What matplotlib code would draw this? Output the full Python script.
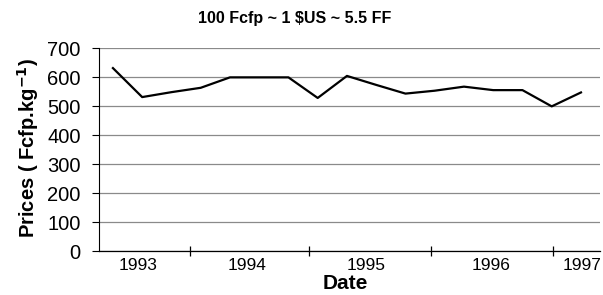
import matplotlib
matplotlib.use("Agg")
import matplotlib.pyplot as plt
import numpy as np

plt.rcParams['font.family'] = ['Liberation Sans', 'DejaVu Sans']

# quarterly prices (Fcfp/kg), May 1993 .. 1997
prices = [631, 531, 548, 563, 599, 599, 599, 528, 604, 573, 543, 553,
          567, 555, 555, 499, 547]
years = ['1993', '1994', '1995', '1996', '1997']
year_centers = [0.85, 4.58, 8.65, 12.92, 16.03]
year_breaks = [2.63, 6.70, 10.87, 15.04]

x = np.arange(len(prices))

fig = plt.figure(figsize=(6.03, 2.95), dpi=100)
ax = fig.add_axes([0.164, 0.149, 0.831, 0.688])

ax.plot(x, prices, color='black', lw=1.6, zorder=3)

ax.set_ylim(0, 700)
ax.set_yticks(range(0, 701, 100))
ax.yaxis.grid(True, color='#8a8a8a', lw=0.9)
ax.set_axisbelow(True)
ax.set_xlim(-0.48, 16.65)

ax.set_xticks(year_breaks)
ax.set_xticklabels([])
ax.set_xticks(year_centers, minor=True)
ax.set_xticklabels(years, minor=True)
ax.tick_params(axis='x', which='major', direction='inout', length=7, width=0.9)
ax.tick_params(axis='x', which='minor', length=0, pad=5, labelsize=12.5)
ax.tick_params(axis='y', direction='out', length=5, width=0.8, labelsize=14.5, pad=8)

for s in ['top', 'right']:
    ax.spines[s].set_visible(False)
ax.spines['left'].set_linewidth(0.8)
ax.spines['bottom'].set_linewidth(0.9)

fig.text(295 / 603, 1 - 18 / 295, '100 Fcfp ~ 1 $US ~ 5.5 FF', fontsize=11.5,
         fontweight='bold', ha='center', va='center')
ax.set_ylabel('Prices ( Fcfp.kg$^{\\mathbf{-1}}$)', fontsize=14.5, fontweight='bold',
              va='center')
ax.yaxis.set_label_coords(-0.142, 0.51)
ax.set_xlabel('Date', fontsize=15, fontweight='bold', va='center')
ax.xaxis.set_label_coords(0.491, -0.16)

fig.savefig('out.png', dpi=100)
